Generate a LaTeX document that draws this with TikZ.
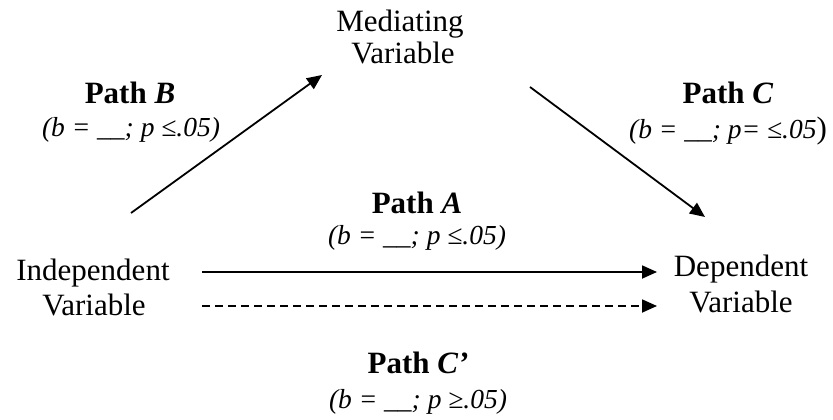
\documentclass[tikz,border=0pt]{standalone}
\usepackage{fontspec}
\setmainfont{Liberation Serif}
\usetikzlibrary{arrows.meta}
\begin{document}
\begin{tikzpicture}[x=1pt,y=-1pt,
  txt/.style={font=\fontsize{31}{34}\selectfont, inner sep=0pt, anchor=base},
  stat/.style={font=\fontsize{27.5}{30}\selectfont\itshape, inner sep=0pt, anchor=base},
  arr/.style={line width=1.8pt, -{Triangle[length=15pt,width=13pt]}},
  dsh/.style={arr, dash pattern=on 8pt off 5pt}]
\useasboundingbox (0,0) rectangle (833,420);
% variable labels
\node[txt] (med1) at (400,32) {Mediating};
\node[txt] (med2) at (403,64) {Variable};
\node[txt] (ind1) at (93,280) {Independent};
\node[txt] (ind2) at (94,315) {Variable};
\node[txt] (dep1) at (741,276) {Dependent};
\node[txt] (dep2) at (741,312) {Variable};
% path labels
\node[txt] (pB1) at (130,103) {\textbf{Path \textit{B}}};
\node[stat] (pB2) at (131,136) {(b = \_\_; p ≤.05)};
\node[txt] (pC1) at (728,103) {\textbf{Path \textit{C}}};
\node[stat] (pC2) at (728,138) {(b = \_\_; p= ≤.05\raisebox{-0.5pt}{\upshape\fontsize{31}{34}\selectfont)}};
\node[txt] (pA1) at (417,213) {\textbf{Path \textit{A}}};
\node[stat] (pA2) at (417,244) {(b = \_\_; p ≤.05)};
\node[txt] (pCp1) at (418,373) {\textbf{Path \textit{C’}}};
\node[stat] (pCp2) at (418,408) {(b = \_\_; p ≥.05)};
% connector endpoints
\coordinate (bS) at (131,213);
\coordinate (bE) at (322,75);
\coordinate (cS) at (530,87);
\coordinate (cE) at (705,217);
\coordinate (aS) at (202,272);
\coordinate (aE) at (657,272);
\coordinate (dS) at (202,306);
\coordinate (dE) at (657,306);
\draw[arr] (bS) -- (bE);
\draw[arr] (cS) -- (cE);
\draw[arr] (aS) -- (aE);
\draw[dsh] (dS) -- (dE);
\end{tikzpicture}
\end{document}
